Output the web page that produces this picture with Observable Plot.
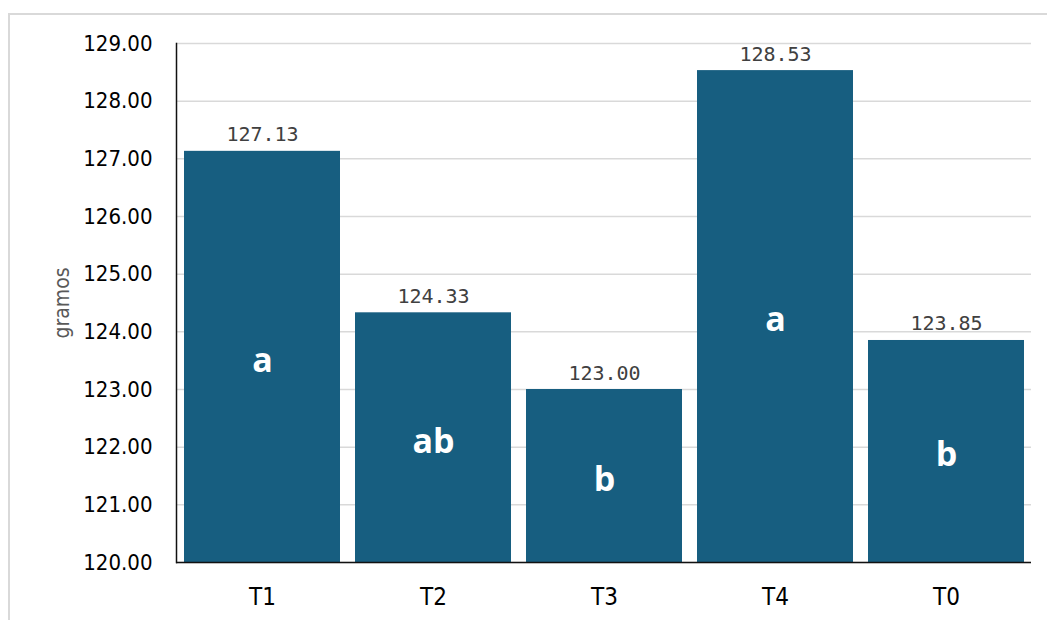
<!DOCTYPE html>
<html>
<head>
<meta charset="utf-8">
<script src="https://cdn.jsdelivr.net/npm/d3@7"></script>
<script src="https://cdn.jsdelivr.net/npm/@observablehq/plot@0.6"></script>
<style>
  html, body { margin: 0; padding: 0; background: #fff; overflow: hidden; }
  #wrap { position: relative; width: 1047px; height: 620px; }
  #border { position: absolute; left: 8px; top: 13px; width: 1100px; height: 700px;
            border: 2px solid #d9d9d9; box-sizing: border-box; }
  #chart { position: absolute; left: 0; top: 0; }
</style>
</head>
<body>
<div id="wrap">
  <div id="border"></div>
  <div id="chart"></div>
</div>
<script>
// Treatments, mean weight (g) and significance groups
const treatments = ["T1", "T2", "T3", "T4", "T0"];
const means = [127.13, 124.33, 123.00, 128.53, 123.85];
const groups = ["a", "ab", "b", "a", "b"];
const yTicks = [120, 121, 122, 123, 124, 125, 126, 127, 128, 129];
const yLabel = "gramos";

const rows = treatments.map((t, i) => ({trat: t, value: means[i], group: groups[i]}));
const base = yTicks[0];

const chart = Plot.plot({
  width: 1047,
  height: 620,
  marginLeft: 176,
  marginRight: 16,
  marginTop: 43,
  marginBottom: 58,
  style: {fontFamily: "'DejaVu Sans Condensed', 'DejaVu Sans', sans-serif", background: "transparent", overflow: "visible"},
  x: {domain: treatments, paddingInner: 0.088, paddingOuter: 0.044, axis: null},
  y: {domain: [yTicks[0], yTicks[yTicks.length - 1]], axis: null},
  marks: [
    Plot.gridY(yTicks, {stroke: "#d9d9d9", strokeOpacity: 1, strokeWidth: 1.5}),
    Plot.barY(rows, {x: "trat", y1: () => base, y2: "value", fill: "#175e80"}),
    Plot.ruleY([base], {stroke: "#111", strokeWidth: 1.5}),
    Plot.frame({anchor: "left", stroke: "#111", strokeWidth: 1.5}),
    Plot.axisY(yTicks, {
      tickSize: 0, tickPadding: 24, tickFormat: d3.format(".2f"),
      fontSize: 22, fill: "#000", label: null
    }),
    Plot.axisX({tickSize: 0, tickPadding: 25, fontSize: 24, fill: "#000", label: null}),
    Plot.text(rows, {
      x: "trat", y: "value", text: d => d.value.toFixed(2),
      lineAnchor: "bottom", dy: -10,
      fontFamily: "'DejaVu Sans Mono', monospace", fontSize: 20, fill: "#404040"
    }),
    Plot.text(rows, {
      x: "trat", y: d => (base + d.value) / 2, text: "group",
      lineAnchor: "middle", dy: 4,
      fontFamily: "'Open Sans', sans-serif", fontWeight: "bold", fontSize: 34, fill: "#fff"
    }),
    Plot.text([yLabel], {
      text: d => d, frameAnchor: "left", dx: -114, rotate: -90,
      textAnchor: "middle", lineAnchor: "middle",
      fontSize: 21, fill: "#595959"
    })
  ]
});

document.getElementById("chart").appendChild(chart);
</script>
</body>
</html>
